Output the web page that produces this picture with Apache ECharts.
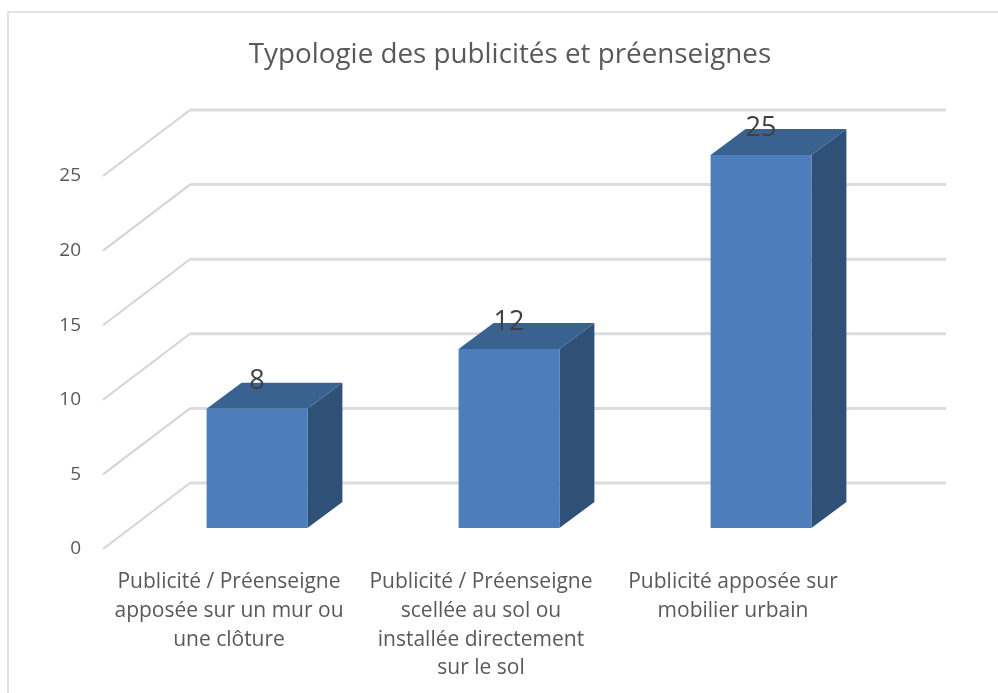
<!DOCTYPE html>
<html><head><meta charset="utf-8">
<style>html,body{margin:0;padding:0;background:#fff}#c{width:998px;height:693px}</style>
<script src="https://cdn.jsdelivr.net/npm/echarts@6/dist/echarts.min.js"></script>
</head><body><div id="c"></div>
<script>
const titleText = 'Typologie des publicités et préenseignes';
const categories = [
  'Publicité / Préenseigne\napposée sur un mur ou\nune clôture',
  'Publicité / Préenseigne\nscellée au sol ou\ninstallée directement\nsur le sol',
  'Publicité apposée sur\nmobilier urbain'
];
const values = [8, 12, 25];
const yTicks = [0, 5, 10, 15, 20, 25];

const FONT = '"Open Sans","Noto Sans",sans-serif';
const WALL = [87, -66];      // front plane to back wall
const BAR_START = [28, -21]; // front plane to bar front face
const BAR_DEPTH = [35, -26]; // bar front to bar back
const BAR_RATIO = 0.4;

const chart = echarts.init(document.getElementById('c'), null, {renderer: 'canvas'});

function renderWall(params, api) {
  const v = api.value(0);
  const left = api.coord([0, v]);
  const cs = params.coordSys;
  const p0 = [cs.x, left[1]];
  const p1 = [cs.x + WALL[0], left[1] + WALL[1]];
  const p2 = [cs.x + cs.width + WALL[0], left[1] + WALL[1]];
  return {
    type: 'group',
    children: [
      {type: 'polyline', shape: {points: [p0, p1]}, style: {stroke: '#d4d4d4', lineWidth: 2, fill: 'none'}},
      {type: 'polyline', shape: {points: [p1, p2]}, style: {stroke: '#dcdcdc', lineWidth: 3, fill: 'none'}}
    ]
  };
}

function renderBar(params, api) {
  const i = api.value(0), v = api.value(1);
  const w = api.size([1, 0])[0] * BAR_RATIO;
  const top = api.coord([i, v]), base = api.coord([i, 0]);
  const x0 = top[0] + BAR_START[0] - w / 2, x1 = x0 + w;
  const yT = top[1] + BAR_START[1], yB = base[1] + BAR_START[1];
  const dx = BAR_DEPTH[0], dy = BAR_DEPTH[1];
  return {
    type: 'group',
    children: [
      {type: 'polygon', shape: {points: [[x1, yT], [x1 + dx, yT + dy], [x1 + dx, yB + dy], [x1, yB]]}, style: {fill: '#2f5178'}},
      {type: 'polygon', shape: {points: [[x0, yT], [x0 + dx, yT + dy], [x1 + dx, yT + dy], [x1, yT]]}, style: {fill: '#3a6290'}},
      {type: 'rect', shape: {x: x0, y: yT, width: w, height: yB - yT}, style: {fill: '#4d7ebb'}},
      {type: 'text', style: {text: String(v), x: (x0 + x1) / 2, y: yT + dy - 1, align: 'center', verticalAlign: 'middle', fill: '#404040', font: '27px ' + FONT}}
    ]
  };
}

chart.setOption({
  animation: false,
  backgroundColor: '#ffffff',
  title: {
    text: titleText, left: 505, top: 36, textAlign: 'center',
    textStyle: {fontFamily: FONT, fontSize: 27.8, fontWeight: 'normal', color: '#595959'}
  },
  graphic: [{
    type: 'polyline', silent: true, z: 0,
    shape: {points: [[8, 693], [8, 12], [998, 12]]},
    style: {stroke: '#d9d9d9', lineWidth: 1.5, fill: 'none'}
  }],
  grid: {left: 103, top: 176, width: 756, height: 373},
  xAxis: {
    type: 'category', data: categories,
    axisLine: {show: false}, axisTick: {show: false},
    axisLabel: {color: '#595959', fontFamily: FONT, fontSize: 21, lineHeight: 28.7, margin: 19, interval: 0}
  },
  yAxis: {
    type: 'value', min: 0, max: 25, interval: 5,
    axisLine: {show: false}, axisTick: {show: false}, splitLine: {show: false},
    axisLabel: {color: '#595959', fontFamily: FONT, fontSize: 19, margin: 22}
  },
  series: [
    {type: 'custom', renderItem: renderWall, data: yTicks.map(v => [v]), encode: {y: 0}, silent: true, z: 1, clip: false},
    {type: 'custom', renderItem: renderBar, data: values.map((v, i) => [i, v]), encode: {x: 0, y: 1}, z: 2, clip: false}
  ]
});
</script></body></html>
